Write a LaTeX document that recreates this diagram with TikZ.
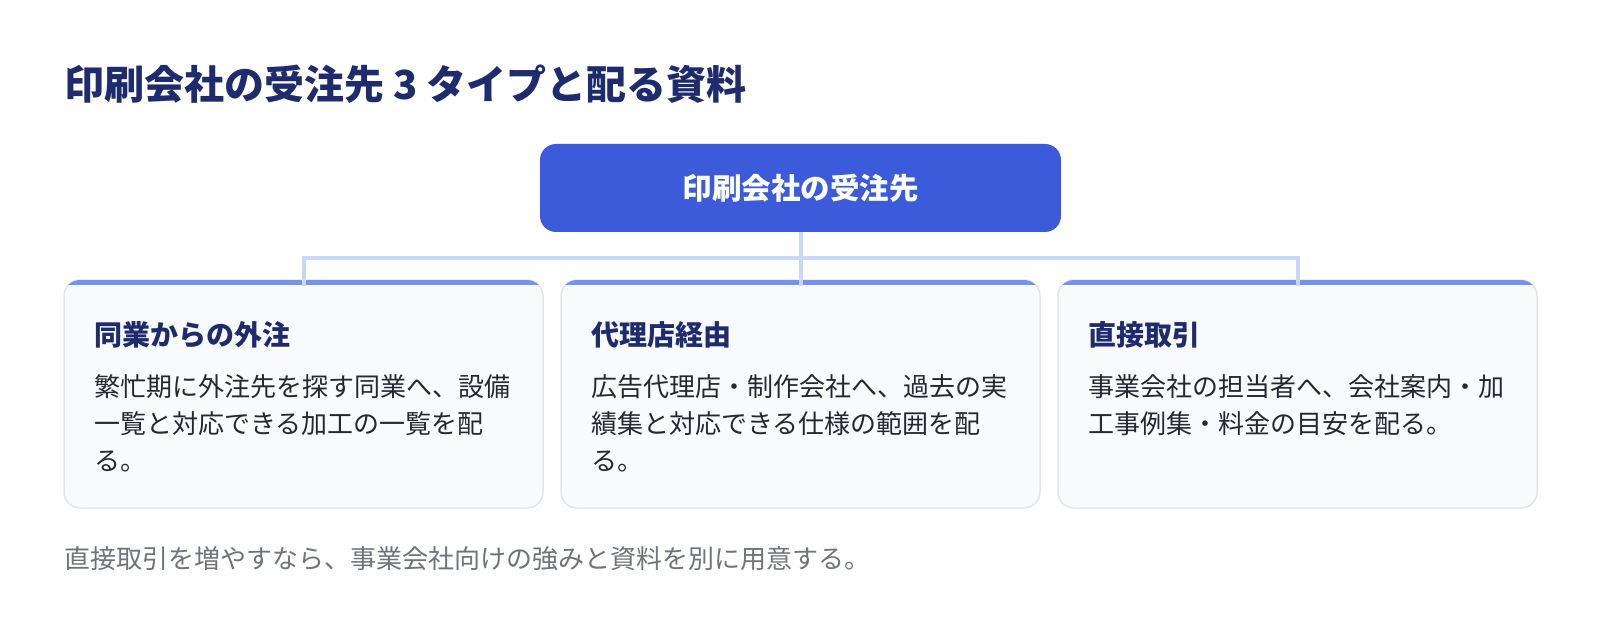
\documentclass[tikz,border=0pt]{standalone}
\usepackage{fontspec}
\setmainfont{Noto Sans CJK JP}
\usepackage{xcolor}
\usetikzlibrary{positioning}

\definecolor{titleNavy}{HTML}{1E2B6E}
\definecolor{rootBlue}{HTML}{3B5BDB}
\definecolor{connBlue}{HTML}{C8D7FA}
\definecolor{accentBlue}{HTML}{7393EE}
\definecolor{cardFill}{HTML}{F8FAFC}
\definecolor{cardLine}{HTML}{E2E5EA}
\definecolor{bodyText}{HTML}{252830}
\definecolor{noteGray}{HTML}{6E737C}

\begin{document}
\begin{tikzpicture}[x=1pt, y=-1pt,
    root/.style={fill=rootBlue, rounded corners=16pt, minimum width=521pt, minimum height=88pt, inner sep=0pt, outer sep=0pt, text=white, font=\fontsize{29.5}{34}\selectfont\bfseries},
    card/.style={draw=cardLine, line width=1.5pt, fill=cardFill, rounded corners=16pt, minimum width=479pt, minimum height=228pt, inner sep=0pt, outer sep=0pt},
    conn/.style={draw=connBlue, line width=4pt},
    head/.style={anchor=base west, inner sep=0pt, text=titleNavy, font=\fontsize{28}{34}\selectfont\bfseries},
    body/.style={anchor=north west, inner sep=0pt, align=left, text=bodyText, font=\fontsize{26}{37}\selectfont}
  ]
  \useasboundingbox (0,0) rectangle (1600,636);

  \node[anchor=base west, inner sep=0pt, text=titleNavy, font=\fontsize{40}{48}\selectfont\bfseries] (title) at (64,100) {印刷会社の受注先 3 タイプと配る資料};

  \node[root] (root) at (800.5,188) {印刷会社の受注先};

  \node[card] (gyosha) at (303.5,394) {};
  \node[card, right=18pt of gyosha] (dairiten) {};
  \node[card, right=18pt of dairiten] (chokusetsu) {};

  % blue band on top of each card
  \foreach \c in {gyosha, dairiten, chokusetsu} {
    \begin{scope}
      \clip[rounded corners=16pt] (\c.north west) rectangle (\c.south east);
      \fill[accentBlue] (\c.north west) rectangle ([yshift=-5pt]\c.north east);
    \end{scope}
  }

  \coordinate (fork) at (800.5,258);
  \draw[conn] (root.south) -- (fork);
  \draw[conn] (fork) -| ([yshift=-6pt]gyosha.north);
  \draw[conn] (fork) -| ([yshift=-6pt]chokusetsu.north);
  \draw[conn] (fork) -- ([yshift=-6pt]dairiten.north);

  \node[head] (gyoshaHead) at ([shift={(30pt,-65pt)}]gyosha.north west) {同業からの外注};
  \node[body] (gyoshaBody) at ([shift={(30pt,-94pt)}]gyosha.north west) {繁忙期に外注先を探す同業へ、設備\\一覧と対応できる加工の一覧を配\\る。};

  \node[head] (dairitenHead) at ([shift={(30pt,-65pt)}]dairiten.north west) {代理店経由};
  \node[body] (dairitenBody) at ([shift={(30pt,-94pt)}]dairiten.north west) {広告代理店・制作会社へ、過去の実\\績集と対応できる仕様の範囲を配\\る。};

  \node[head] (chokusetsuHead) at ([shift={(30pt,-65pt)}]chokusetsu.north west) {直接取引};
  \node[body] (chokusetsuBody) at ([shift={(30pt,-94pt)}]chokusetsu.north west) {事業会社の担当者へ、会社案内・加\\工事例集・料金の目安を配る。};

  \node[anchor=base west, inner sep=0pt, text=noteGray, font=\fontsize{26}{32}\selectfont] (note) at (64,568) {直接取引を増やすなら、事業会社向けの強みと資料を別に用意する。};
\end{tikzpicture}
\end{document}
